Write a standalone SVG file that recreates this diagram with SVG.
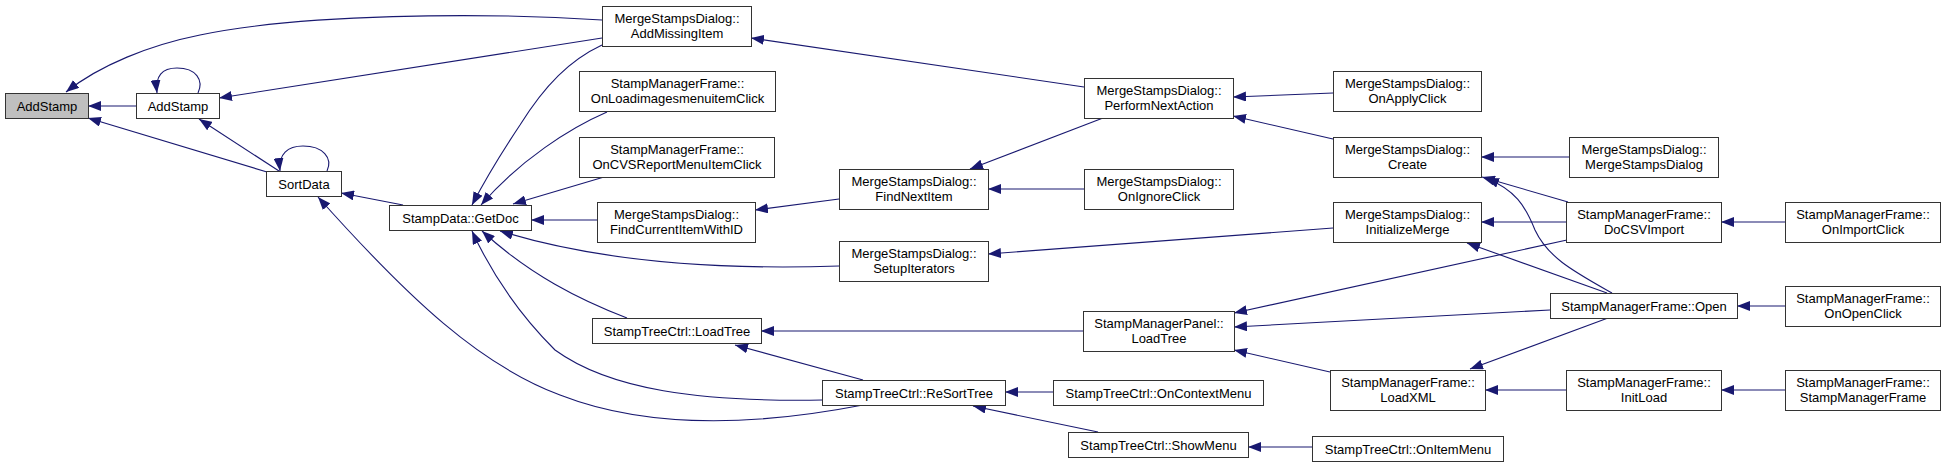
<svg xmlns="http://www.w3.org/2000/svg" width="1945" height="467" viewBox="0 0 1945 467">
<style>
.n rect{fill:#ffffff;stroke:#333333;stroke-width:1}
.n.root rect{fill:#bfbfbf}
.n text{font-family:"Liberation Sans",Arial,Helvetica,sans-serif;font-size:13px;fill:#000000;text-anchor:middle}
#edges path{fill:none;stroke:#191970;stroke-width:1.1;marker-end:url(#ah)}
</style>
<defs>
<marker id="ah" markerUnits="userSpaceOnUse" markerWidth="13" markerHeight="10" viewBox="0 0 13 10" refX="13" refY="5" orient="auto">
<path d="M0,0 L13,5 L0,10 z" fill="#191970"/>
</marker>
</defs>
<rect x="0" y="0" width="1945" height="467" fill="#ffffff"/>
<g id="edges">
<path d="M136,106 L88,106"/>
<path d="M198,93 C204,80 196,68 177,68 C162,68 155,76 157,93"/>
<path d="M327,171 C333,158 323,146 303,146 C288,146 278,154 280,171"/>
<path d="M267,172 L88,118"/>
<path d="M279,171 L199,119"/>
<path d="M602,20 C480,12 300,14 200,35 C150,45 100,65 66,92"/>
<path d="M602,38 L219,98"/>
<path d="M403,205 L341,193"/>
<path d="M863,405 C760,425 650,430 560,395 C480,365 410,300 318,197"/>
<path d="M822,400 C700,402 610,390 555,350 C515,310 490,270 472,231"/>
<path d="M627,318 C580,300 530,275 482,231"/>
<path d="M839,266 C720,270 600,262 500,231"/>
<path d="M607,112 C570,128 520,160 481,205"/>
<path d="M604,177 L513,204"/>
<path d="M602,45 C570,60 545,85 520,125 C500,155 485,180 472,205"/>
<path d="M597,220 L531,220"/>
<path d="M839,199 L755,210"/>
<path d="M1084,87 L751,38"/>
<path d="M1103,118 L970,169"/>
<path d="M1084,189 L988,189"/>
<path d="M1333,93 L1233,97"/>
<path d="M1333,139 L1233,116"/>
<path d="M1569,157 L1481,157"/>
<path d="M1568,202 L1482,177"/>
<path d="M1612,293 C1575,272 1548,258 1535,230 C1525,205 1515,190 1486,178"/>
<path d="M1566,222 L1481,222"/>
<path d="M1607,293 L1467,243"/>
<path d="M1333,228 L988,254"/>
<path d="M1567,240 L1234,313"/>
<path d="M1550,310 L1234,327"/>
<path d="M1330,372 L1234,350"/>
<path d="M1608,318 L1470,369"/>
<path d="M1566,390 L1485,390"/>
<path d="M1785,390 L1721,390"/>
<path d="M1785,222 L1721,222"/>
<path d="M1785,306 L1737,306"/>
<path d="M1053,392 L1005,392"/>
<path d="M1098,432 L973,406"/>
<path d="M1312,447 L1248,447"/>
<path d="M1083,331 L761,331"/>
<path d="M863,380 L735,345"/>
</g>
<g id="n_addstamp_root" class="n root"><rect x="5.5" y="93.5" width="83" height="25"/><text x="47" y="110.5">AddStamp</text></g>
<g id="n_addstamp" class="n"><rect x="136.5" y="93.5" width="83" height="25"/><text x="178" y="110.5">AddStamp</text></g>
<g id="n_sortdata" class="n"><rect x="266.5" y="171.5" width="75" height="25"/><text x="304" y="188.5">SortData</text></g>
<g id="n_getdoc" class="n"><rect x="389.5" y="205.5" width="142" height="25"/><text x="460.5" y="222.5">StampData::GetDoc</text></g>
<g id="n_addmissing" class="n"><rect x="602.5" y="6.5" width="149" height="40"/><text x="677" y="23">MergeStampsDialog::</text><text x="677" y="38">AddMissingItem</text></g>
<g id="n_onloadimages" class="n"><rect x="579.5" y="71.5" width="196" height="40"/><text x="677.5" y="88">StampManagerFrame::</text><text x="677.5" y="103">OnLoadimagesmenuitemClick</text></g>
<g id="n_oncvsreport" class="n"><rect x="579.5" y="137.5" width="195" height="40"/><text x="677" y="154">StampManagerFrame::</text><text x="677" y="169">OnCVSReportMenuItemClick</text></g>
<g id="n_findcurrent" class="n"><rect x="597.5" y="202.5" width="158" height="40"/><text x="676.5" y="219">MergeStampsDialog::</text><text x="676.5" y="234">FindCurrentItemWithID</text></g>
<g id="n_setupiter" class="n"><rect x="839.5" y="241.5" width="149" height="40"/><text x="914" y="258">MergeStampsDialog::</text><text x="914" y="273">SetupIterators</text></g>
<g id="n_loadtree_ctrl" class="n"><rect x="592.5" y="318.5" width="169" height="25"/><text x="677" y="335.5">StampTreeCtrl::LoadTree</text></g>
<g id="n_resort" class="n"><rect x="822.5" y="380.5" width="183" height="25"/><text x="914" y="397.5">StampTreeCtrl::ReSortTree</text></g>
<g id="n_findnext" class="n"><rect x="839.5" y="169.5" width="149" height="40"/><text x="914" y="186">MergeStampsDialog::</text><text x="914" y="201">FindNextItem</text></g>
<g id="n_perform" class="n"><rect x="1084.5" y="78.5" width="149" height="40"/><text x="1159" y="95">MergeStampsDialog::</text><text x="1159" y="110">PerformNextAction</text></g>
<g id="n_onignore" class="n"><rect x="1084.5" y="169.5" width="149" height="40"/><text x="1159" y="186">MergeStampsDialog::</text><text x="1159" y="201">OnIgnoreClick</text></g>
<g id="n_panel_loadtree" class="n"><rect x="1083.5" y="311.5" width="151" height="40"/><text x="1159" y="328">StampManagerPanel::</text><text x="1159" y="343">LoadTree</text></g>
<g id="n_oncontext" class="n"><rect x="1053.5" y="380.5" width="210" height="25"/><text x="1158.5" y="397.5">StampTreeCtrl::OnContextMenu</text></g>
<g id="n_showmenu" class="n"><rect x="1068.5" y="432.5" width="180" height="25"/><text x="1158.5" y="449.5">StampTreeCtrl::ShowMenu</text></g>
<g id="n_onapply" class="n"><rect x="1333.5" y="71.5" width="148" height="40"/><text x="1407.5" y="88">MergeStampsDialog::</text><text x="1407.5" y="103">OnApplyClick</text></g>
<g id="n_create" class="n"><rect x="1333.5" y="137.5" width="148" height="40"/><text x="1407.5" y="154">MergeStampsDialog::</text><text x="1407.5" y="169">Create</text></g>
<g id="n_initmerge" class="n"><rect x="1333.5" y="202.5" width="148" height="40"/><text x="1407.5" y="219">MergeStampsDialog::</text><text x="1407.5" y="234">InitializeMerge</text></g>
<g id="n_loadxml" class="n"><rect x="1330.5" y="370.5" width="155" height="40"/><text x="1408" y="387">StampManagerFrame::</text><text x="1408" y="402">LoadXML</text></g>
<g id="n_onitemmenu" class="n"><rect x="1312.5" y="436.5" width="191" height="25"/><text x="1408" y="453.5">StampTreeCtrl::OnItemMenu</text></g>
<g id="n_msdctor" class="n"><rect x="1569.5" y="137.5" width="149" height="40"/><text x="1644" y="154">MergeStampsDialog::</text><text x="1644" y="169">MergeStampsDialog</text></g>
<g id="n_docsv" class="n"><rect x="1566.5" y="202.5" width="155" height="40"/><text x="1644" y="219">StampManagerFrame::</text><text x="1644" y="234">DoCSVImport</text></g>
<g id="n_open" class="n"><rect x="1550.5" y="293.5" width="187" height="25"/><text x="1644" y="310.5">StampManagerFrame::Open</text></g>
<g id="n_initload" class="n"><rect x="1566.5" y="370.5" width="155" height="40"/><text x="1644" y="387">StampManagerFrame::</text><text x="1644" y="402">InitLoad</text></g>
<g id="n_onimport" class="n"><rect x="1785.5" y="202.5" width="155" height="40"/><text x="1863" y="219">StampManagerFrame::</text><text x="1863" y="234">OnImportClick</text></g>
<g id="n_onopen" class="n"><rect x="1785.5" y="286.5" width="155" height="40"/><text x="1863" y="303">StampManagerFrame::</text><text x="1863" y="318">OnOpenClick</text></g>
<g id="n_smfctor" class="n"><rect x="1785.5" y="370.5" width="155" height="40"/><text x="1863" y="387">StampManagerFrame::</text><text x="1863" y="402">StampManagerFrame</text></g>
</svg>
